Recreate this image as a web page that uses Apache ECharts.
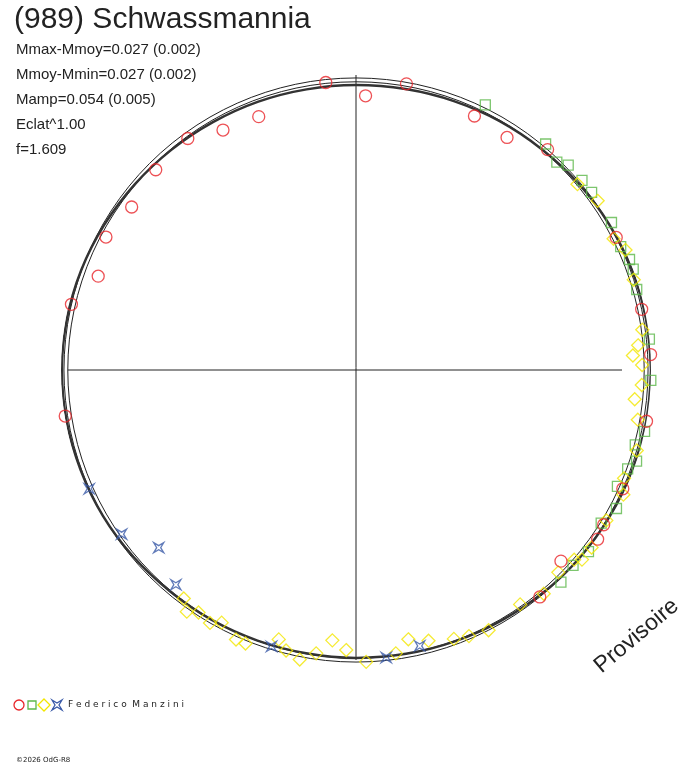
<!DOCTYPE html>
<html><head><meta charset="utf-8">
<script src="https://cdn.jsdelivr.net/npm/echarts@6/dist/echarts.min.js"></script>
<style>html,body{margin:0;padding:0;background:#fff}#c{width:688px;height:768px}</style>
</head><body><div id="c"></div>
<script>
// [phase angle deg, relative radius]
const redPts=[[103,1.01],[96,0.98],[80,0.985],[88,0.93],[126,0.97],[119,0.93],[111,0.92],[135,0.96],[144,0.94],[152,0.96],[160,0.93],[167,0.99],[175,1.08],[189,0.998],[201,1.03],[209,1.04],[214,1.06],[65,0.95],[57,0.94],[52,1.06],[49,0.99],[41,1.06],[33,1.05],[27,0.99],[12,0.99],[3,1.0],[-10,1.0],[-24,0.99],[-32,0.99],[-43,0.95],[-51,0.99],[-35,1.0]];
const greenPts=[[64,1.0],[62,1.04],[60,1.06],[54,1.08],[53,1.04],[50,1.0],[48,1.02],[46,0.98],[44,1.0],[42,1.01],[40,1.0],[37,1.0],[34,1.01],[30,1.0],[25,0.99],[22,1.0],[20,1.0],[16,0.99],[14,1.02],[11,1.03],[9,1.02],[10,1.05],[6,1.0],[3,1.02],[-2,1.0],[-7,1.03],[-12,1.0],[-15,0.98],[-18,1.0],[-20,0.98],[-24,0.97],[-28,1.0],[-32,0.98],[-38,1.0],[-42,0.99],[-46,1.0]];
const greyPts=[[5,1.02],[0,1.05],[-7,1.03]];
const yellowPts=[[40,0.98],[35,1.0],[30,1.01],[27,0.98],[24,1.0],[21,1.03],[18,0.99],[15,1.01],[12,1.03],[8,0.98],[5,0.96],[3,0.94],[1,0.97],[-3,0.97],[-6,0.95],[-10,0.97],[-13,1.03],[-16,0.99],[-19,1.02],[-22,0.98],[-25,1.0],[-28,1.02],[-31,0.99],[-34,1.01],[-37,1.0],[-41,0.98],
 [233,0.97],[235,1.0],[237,0.98],[240,0.99],[242,0.97],[246,1.0],[249,1.07],[248,1.0],[254,0.95],[256,0.98],[259,1.0],[262,0.97],[265,0.92],[268,0.95],[270,1.03],[272,0.99],[274,1.02],[278,0.97],[281,0.93],[285,0.95],[288,1.02],[290,0.97],[293,0.98],[297,0.99],[300,1.03],[305,0.97],[310,0.99],[315,0.97],[320,1.0]];
const bluePts=[[204,0.99],[215,0.97],[222,0.90],[230,0.95],[238,1.13],[245,1.10],[253,0.98],[260,1.02],[276,0.98],[283,0.96]];
const curveAng=[0,10,20,30,40,50,60,70,80,90,100,110,120,130,140,150,160,170,180,190,200,210,220,230,240,250,260,270,280,290,300,310,320,330,340,350,360];
const curveR=[1.0,0.998,0.995,0.99,0.984,0.978,0.974,0.97,0.967,0.966,0.966,0.968,0.97,0.974,0.979,0.985,0.991,0.995,0.997,0.996,0.993,0.99,0.985,0.98,0.978,0.976,0.975,0.976,0.977,0.979,0.982,0.986,0.99,0.993,0.996,0.999,1.0];
const ringR=[0.99,0.977];
const infoLines=['Mmax-Mmoy=0.027 (0.002)','Mmoy-Mmin=0.027 (0.002)','Mamp=0.054 (0.005)','Eclat^1.00','f=1.609'];

const norm=a=>((a%360)+360)%360;
const pd=arr=>arr.map(p=>[p[1],norm(p[0])]);
const star='path://M0,0 L5,3 L10,0 L7,5 L10,10 L5,7 L0,10 L3,5 Z';
function sc(data,sym,col,size){return {type:'scatter',coordinateSystem:'polar',data:pd(data),symbol:sym,symbolSize:size,
 itemStyle:{color:'rgba(0,0,0,0)',borderColor:col,borderWidth:1.3},z:3,silent:true};}
const ring=r=>{const d=[];for(let a=0;a<=360;a+=3)d.push([r,a]);return d;};
const series=[
 {type:'line',coordinateSystem:'polar',data:ring(ringR[0]),symbol:'none',lineStyle:{color:'#222',width:1},z:2},
 {type:'line',coordinateSystem:'polar',data:ring(ringR[1]),symbol:'none',lineStyle:{color:'#222',width:1},z:2},
 {type:'line',coordinateSystem:'polar',data:curveAng.map((a,i)=>[curveR[i],a]),symbol:'none',smooth:0.4,lineStyle:{color:'#333',width:2.5},z:2},
 sc(greyPts,'rect','#999',10),
 sc(greenPts,'rect','#5db84a',10),
 sc(yellowPts,'diamond','#f2e600',13),
 sc(redPts,'circle','#e8262a',12),
 sc(bluePts,star,'#3a5aa8',10)
];
const g=[
 {type:'line',shape:{x1:68,y1:370,x2:622,y2:370},style:{stroke:'#222',lineWidth:1}},
 {type:'line',shape:{x1:356,y1:75,x2:356,y2:660},style:{stroke:'#222',lineWidth:1}},
 {type:'text',x:14,y:5,style:{text:'(989) Schwassmannia',font:'30px "Liberation Sans", Arial',fill:'#222'}},
 {type:'text',x:590,y:660,rotation:Math.PI*40/180,style:{text:'Provisoire',font:'23px "Liberation Sans", Arial',fill:'#222'}},
 {type:'circle',shape:{cx:19,cy:705,r:5},style:{fill:'none',stroke:'#e8262a',lineWidth:1.3}},
 {type:'rect',shape:{x:28,y:701,width:8,height:8},style:{fill:'none',stroke:'#5db84a',lineWidth:1.3}},
 {type:'polygon',shape:{points:[[44,699],[50,705],[44,711],[38,705]]},style:{fill:'none',stroke:'#f2e600',lineWidth:1.3}},
 {type:'polygon',shape:{points:[[52,700],[57,703],[62,700],[59,705],[62,710],[57,707],[52,710],[55,705]]},style:{fill:'none',stroke:'#3a5aa8',lineWidth:1.3}},
 {type:'text',x:68,y:700,style:{text:'F e d e r i c o  M a n z i n i',font:'9px "DejaVu Sans"',fill:'#222'}},
 {type:'text',x:16,y:757,style:{text:'©2026 OdG-R8',font:'7px "DejaVu Sans"',fill:'#222'}}
];
infoLines.forEach((t,i)=>g.push({type:'text',x:16,y:42+i*25,style:{text:t,font:'15px "Liberation Sans", Arial',fill:'#222'}}));
const chart=echarts.init(document.getElementById('c'));
chart.setOption({animation:false,backgroundColor:'#fff',
 polar:{center:[356,370],radius:295},
 angleAxis:{type:'value',min:0,max:360,startAngle:0,clockwise:false,show:false,splitLine:{show:false}},
 radiusAxis:{type:'value',min:0,max:1,show:false,splitLine:{show:false}},
 graphic:g,series});
</script></body></html>
